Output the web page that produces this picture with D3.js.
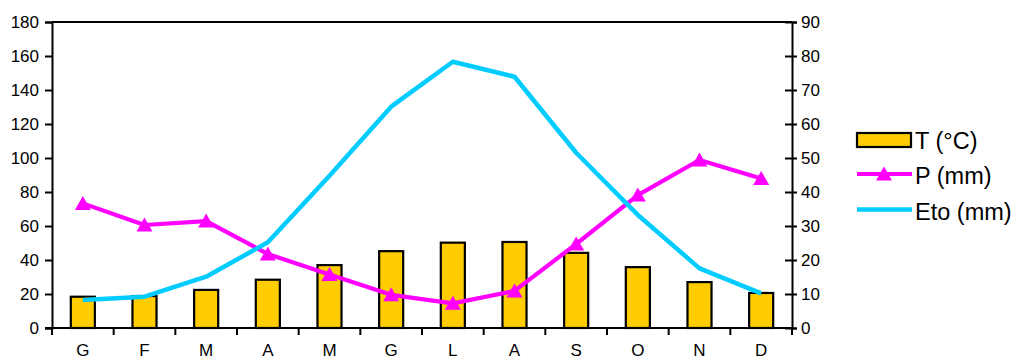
<!DOCTYPE html>
<html>
<head>
<meta charset="utf-8">
<script src="https://cdn.jsdelivr.net/npm/d3@7"></script>
<style>
  html, body { margin: 0; padding: 0; background: #fff; }
  svg { display: block; font-family: "Liberation Sans", Arial, sans-serif; }
</style>
</head>
<body>
<svg id="chart" width="1014" height="360"></svg>
<script>
// Monthly climate data
const months = ["G", "F", "M", "A", "M", "G", "L", "A", "S", "O", "N", "D"];
const temperature = [9.2, 9.4, 11.2, 14.2, 18.5, 22.6, 25.1, 25.3, 22.1, 17.9, 13.5, 10.3];   // T (°C), right axis
const precipitation = [73.3, 60.6, 62.9, 43.5, 31.5, 19.5, 14.5, 21.8, 49.4, 78.2, 98.8, 88.0]; // P (mm), left axis
const evapotranspiration = [16.5, 18.4, 30.2, 50.4, 89.6, 130.2, 156.6, 147.8, 103.1, 66.5, 35.1, 20.4]; // Eto (mm), left axis
const leftTicks = [0, 20, 40, 60, 80, 100, 120, 140, 160, 180];
const rightTicks = [0, 10, 20, 30, 40, 50, 60, 70, 80, 90];
const seriesNames = ["T (°C)", "P (mm)", "Eto (mm)"];

const colors = { bar: "#FFCC00", p: "#FF00FF", eto: "#00CCFF" };

const svg = d3.select("#chart");
const plotLeft = 52, plotRight = 792, plotTop = 22, plotBottom = 328;

const keys = months.map((m, i) => i);
const x = d3.scaleBand().domain(keys).range([plotLeft, plotRight]);
const yL = d3.scaleLinear().domain([0, 180]).range([plotBottom, plotTop]);
const yR = d3.scaleLinear().domain([0, 90]).range([plotBottom, plotTop]);
const cx = i => x(i) + x.bandwidth() / 2;
const barW = x.bandwidth() * 0.39;

// Temperature bars
svg.append("g").selectAll("rect")
  .data(temperature)
  .join("rect")
  .attr("x", (d, i) => cx(i) - barW / 2)
  .attr("y", d => yR(d))
  .attr("width", barW)
  .attr("height", d => plotBottom - yR(d))
  .attr("fill", colors.bar)
  .attr("stroke", "#000")
  .attr("stroke-width", 2.2);

// Frame: top line
svg.append("line")
  .attr("x1", plotLeft).attr("x2", plotRight).attr("y1", plotTop).attr("y2", plotTop)
  .attr("stroke", "#000").attr("stroke-width", 2);

// Left axis
const axL = svg.append("g").attr("transform", `translate(${plotLeft},0)`)
  .call(d3.axisLeft(yL).tickValues(leftTicks).tickSize(7).tickPadding(6).tickFormat(d3.format("d")));
// Right axis (ticks cross the line)
const axR = svg.append("g").attr("transform", `translate(${plotRight},0)`)
  .call(d3.axisRight(yR).tickValues(rightTicks).tickSize(5).tickPadding(4).tickFormat(d3.format("d")));
axR.selectAll(".tick line").attr("x1", -7);

// Bottom axis: labels at category centres, ticks at category boundaries
const axB = svg.append("g").attr("transform", `translate(0,${plotBottom})`)
  .call(d3.axisBottom(x).tickSize(0).tickPadding(16).tickFormat(i => months[i]));
axB.select(".domain").remove();
svg.append("g").selectAll("line")
  .data(keys.concat([keys.length]))
  .join("line")
  .attr("x1", i => i < keys.length ? x(i) : plotRight)
  .attr("x2", i => i < keys.length ? x(i) : plotRight)
  .attr("y1", plotBottom).attr("y2", plotBottom + 7)
  .attr("stroke", "#000").attr("stroke-width", 2);
svg.append("line")
  .attr("x1", plotLeft - 7).attr("x2", plotRight).attr("y1", plotBottom).attr("y2", plotBottom)
  .attr("stroke", "#000").attr("stroke-width", 2);

[axL, axR].forEach(g => {
  g.select(".domain").attr("stroke", "#000").attr("stroke-width", 2);
  g.selectAll(".tick line").attr("stroke", "#000").attr("stroke-width", 2);
});
[axL, axR, axB].forEach(g => {
  g.selectAll(".tick text").attr("font-size", 17).attr("fill", "#000")
    .attr("font-family", "'Liberation Sans', Arial, sans-serif");
});

// Precipitation line with triangle markers
const tri = "M0,-7.5L8,6.5L-8,6.5Z";
svg.append("path")
  .datum(precipitation)
  .attr("d", d3.line().x((d, i) => cx(i)).y(d => yL(d)))
  .attr("fill", "none").attr("stroke", colors.p).attr("stroke-width", 4.2)
  .attr("stroke-linejoin", "round");
svg.append("g").selectAll("path")
  .data(precipitation)
  .join("path")
  .attr("d", tri)
  .attr("transform", (d, i) => `translate(${cx(i)},${yL(d)})`)
  .attr("fill", colors.p);

// Evapotranspiration line
svg.append("path")
  .datum(evapotranspiration)
  .attr("d", d3.line().x((d, i) => cx(i)).y(d => yL(d)))
  .attr("fill", "none").attr("stroke", colors.eto).attr("stroke-width", 4.5)
  .attr("stroke-linejoin", "round");

// Legend
const lg = svg.append("g").attr("font-size", 23.5);
lg.append("rect").attr("x", 857).attr("y", 133).attr("width", 54).attr("height", 14)
  .attr("fill", colors.bar).attr("stroke", "#000").attr("stroke-width", 2.2);
lg.append("line").attr("x1", 857).attr("x2", 912).attr("y1", 174).attr("y2", 174)
  .attr("stroke", colors.p).attr("stroke-width", 4.2);
lg.append("path").attr("d", tri).attr("transform", "translate(884,174)").attr("fill", colors.p);
lg.append("line").attr("x1", 857).attr("x2", 912).attr("y1", 209.5).attr("y2", 209.5)
  .attr("stroke", colors.eto).attr("stroke-width", 4.5);
lg.selectAll("text")
  .data(seriesNames)
  .join("text")
  .attr("x", 915)
  .attr("y", (d, i) => [148.5, 184, 220][i])
  .attr("fill", "#000")
  .text(d => d);
</script>
</body>
</html>
